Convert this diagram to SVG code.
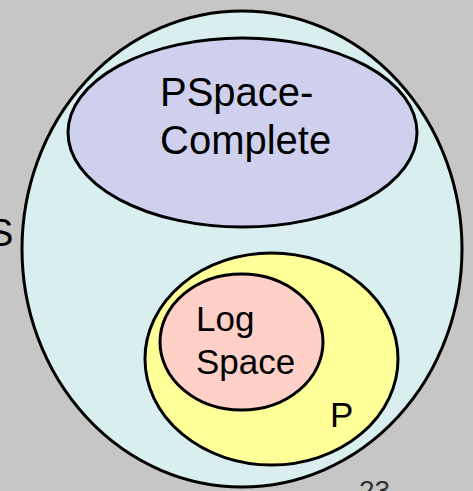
<svg xmlns="http://www.w3.org/2000/svg" width="473" height="491" viewBox="0 0 473 491">
<style>
.e{stroke:#000;stroke-width:3}
.t{font-family:"Liberation Sans",Arial,sans-serif;fill:#000}
</style>
<rect width="473" height="491" fill="#c6c6c6"/>
<text class="t" x="-12" y="246" font-size="38">S</text>
<g id="s-space">
<ellipse class="e" cx="242" cy="249" rx="220" ry="238" fill="#d9eeee"/>
</g>
<g id="pspace-complete">
<ellipse class="e" cx="242.5" cy="132.5" rx="174.5" ry="94.5" fill="#cfd0ee"/>
<text class="t" x="160" y="106" font-size="40">PSpace-</text>
<text class="t" x="160" y="154" font-size="40">Complete</text>
</g>
<g id="p">
<ellipse class="e" cx="271.5" cy="359" rx="126.5" ry="106" fill="#ffff99"/>
<text class="t" x="330" y="427" font-size="35">P</text>
</g>
<g id="logspace">
<ellipse class="e" cx="241.5" cy="342" rx="81.5" ry="68" fill="#ffd0c8"/>
<text class="t" x="196" y="331" font-size="35">Log</text>
<text class="t" x="196" y="374" font-size="35">Space</text>
</g>
<text x="359" y="500" font-size="28" font-family="Liberation Sans,Arial,sans-serif" fill="#333">23</text>
</svg>
